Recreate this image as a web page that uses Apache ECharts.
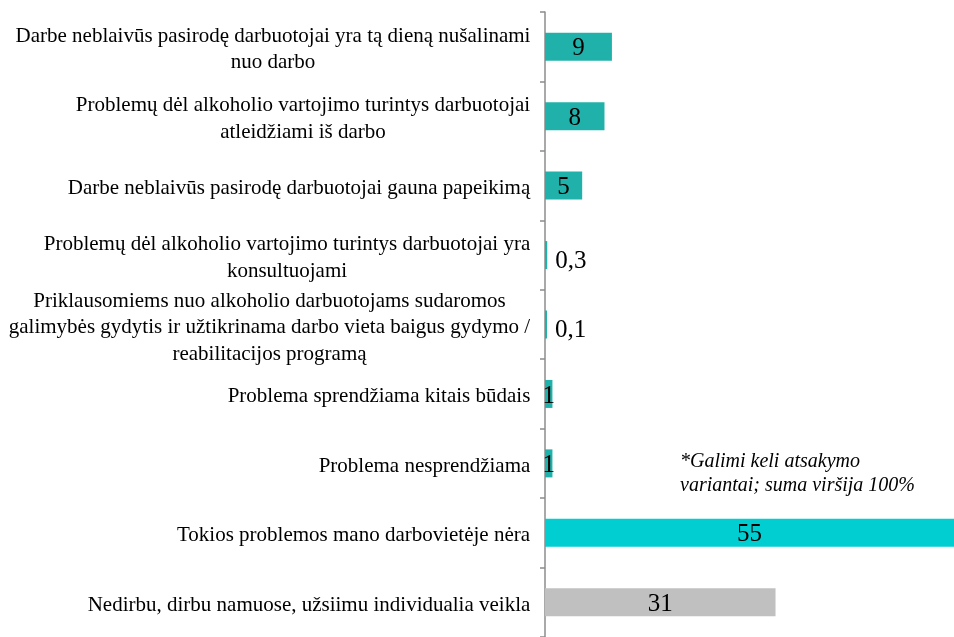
<!DOCTYPE html>
<html>
<head>
<meta charset="utf-8">
<script src="https://cdn.jsdelivr.net/npm/echarts@6/dist/echarts.min.js"></script>
<style>
  html, body { margin: 0; padding: 0; background: #fff; }
  #chart { width: 954px; height: 637px; }
</style>
</head>
<body>
<div id="chart"></div>
<script>
// categories, top to bottom
const categories = [
    "Darbe neblaivūs pasirodę darbuotojai yra tą dieną nušalinami\nnuo darbo",
    "Problemų dėl alkoholio vartojimo turintys darbuotojai\natleidžiami iš darbo",
    "Darbe neblaivūs pasirodę darbuotojai gauna papeikimą",
    "Problemų dėl alkoholio vartojimo turintys darbuotojai yra\nkonsultuojami",
    "Priklausomiems nuo alkoholio darbuotojams sudaromos\ngalimybės gydytis ir užtikrinama darbo vieta baigus gydymo /\nreabilitacijos programą",
    "Problema sprendžiama kitais būdais",
    "Problema nesprendžiama",
    "Tokios problemos mano darbovietėje nėra",
    "Nedirbu, dirbu namuose, užsiimu individualia veikla"
];
const values = [9, 8, 5, 0.3, 0.1, 1, 1, 55, 31];
const barColors = ["#20b2aa", "#20b2aa", "#20b2aa", "#20b2aa", "#20b2aa", "#20b2aa", "#20b2aa", "#00ced1", "#c0c0c0"];
const note = "*Galimi keli atsakymo\nvariantai; suma viršija 100%";

const serif = "'Liberation Serif', 'Times New Roman', serif";

// measure widest line of each label so lines can be centred within the block
const ctx = document.createElement("canvas").getContext("2d");
ctx.font = "21px " + serif;
let rich = {};
categories.forEach(function (c, i) {
    let w = 0;
    c.split("\n").forEach(function (line) {
        w = Math.max(w, ctx.measureText(line).width);
    });
    rich["l" + i] = {
        width: Math.ceil(w) + 1,
        align: "center",
        fontSize: 21,
        fontFamily: serif,
        lineHeight: 26.5,
        color: "#000"
    };
});

let seriesData = values.map(function (v, i) {
    let small = v < 0.5;
    return {
        value: v,
        itemStyle: { color: barColors[i] },
        label: {
            position: small ? "right" : "inside",
            distance: 8,
            offset: small ? [0, 6] : [0, 2]
        }
    };
});

const chart = echarts.init(document.getElementById("chart"));
chart.setOption({
    animation: false,
    grid: { left: 545, right: 0, top: 12, height: 629 },
    xAxis: {
        type: "value",
        min: 0,
        max: 55,
        show: false
    },
    yAxis: {
        type: "category",
        inverse: true,
        data: categories,
        axisLine: { show: true, lineStyle: { color: "#8c8c8c", width: 1.5 } },
        axisTick: { show: true, length: 5, lineStyle: { color: "#8c8c8c", width: 1.5 } },
        axisLabel: {
            margin: 14,
            align: "right",
            padding: [6, 0, 0, 0],
            formatter: function (value, idx) {
                return value.split("\n").map(function (line) {
                    return "{l" + idx + "|" + line + "}";
                }).join("\n");
            },
            rich: rich
        },
        splitLine: { show: false }
    },
    series: [{
        type: "bar",
        data: seriesData,
        barWidth: 28,
        barMinHeight: 2,
        label: {
            show: true,
            color: "#000",
            fontSize: 25,
            fontFamily: serif,
            formatter: function (p) {
                return String(p.value).replace(".", ",");
            }
        }
    }],
    graphic: [{
        type: "text",
        left: 680,
        top: 450,
        style: {
            text: note,
            font: "italic 20px " + serif,
            lineHeight: 24,
            fill: "#000"
        }
    }]
});
</script>
</body>
</html>
